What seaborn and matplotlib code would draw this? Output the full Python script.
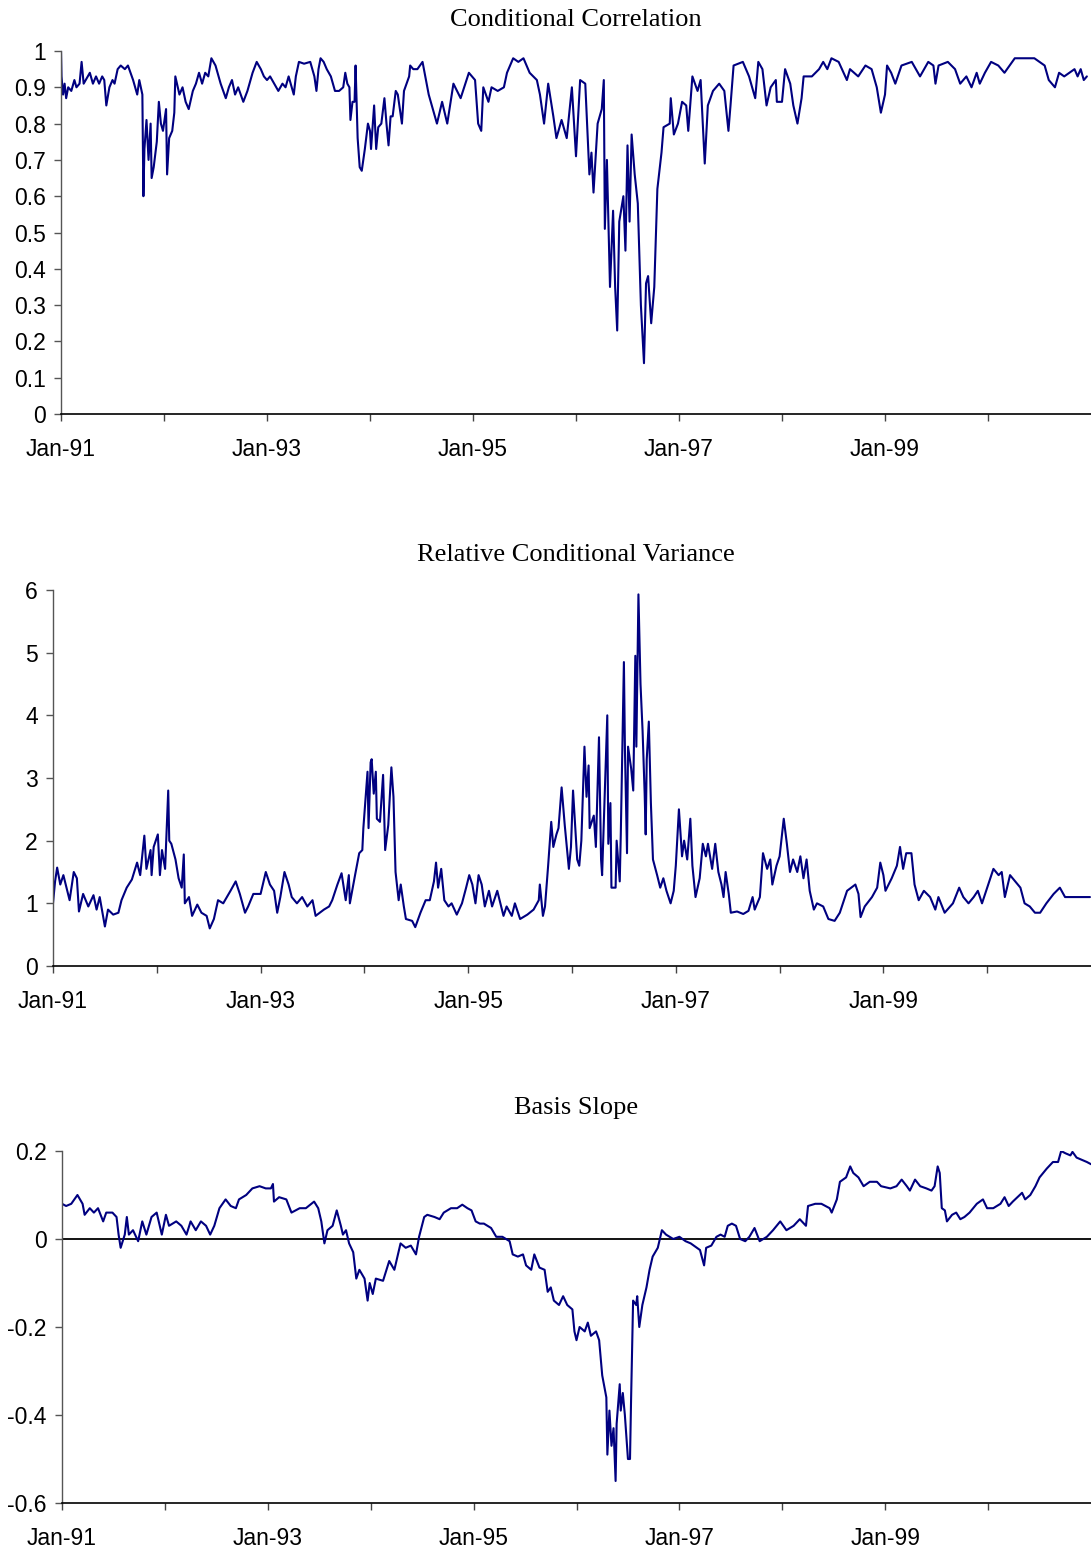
import matplotlib
matplotlib.use("Agg")
import matplotlib.pyplot as plt
import seaborn as sns
import pandas as pd
from matplotlib.ticker import FixedLocator, FuncFormatter

# ---------------- data (decimal year, value) ----------------
corr_pts = [
    (1991.00, 1.00), (1991.005, 0.93), (1991.02, 0.88), (1991.035, 0.91), (1991.05, 0.87), (1991.07, 0.90),
    (1991.10, 0.89), (1991.13, 0.92), (1991.15, 0.90), (1991.18, 0.91), (1991.20, 0.97), (1991.22, 0.91),
    (1991.24, 0.92), (1991.28, 0.94), (1991.31, 0.91), (1991.34, 0.93), (1991.37, 0.91), (1991.40, 0.93),
    (1991.42, 0.92), (1991.44, 0.85), (1991.47, 0.90), (1991.50, 0.92), (1991.52, 0.91), (1991.55, 0.95),
    (1991.58, 0.96), (1991.62, 0.95), (1991.65, 0.96), (1991.70, 0.92), (1991.74, 0.88), (1991.76, 0.92),
    (1991.79, 0.88), (1991.80, 0.60), (1991.81, 0.73), (1991.83, 0.81), (1991.85, 0.70), (1991.87, 0.80),
    (1991.88, 0.65), (1991.90, 0.68), (1991.93, 0.75), (1991.95, 0.86), (1991.97, 0.80), (1991.99, 0.78),
    (1992.02, 0.84), (1992.03, 0.66), (1992.05, 0.76), (1992.08, 0.78), (1992.10, 0.83), (1992.11, 0.93),
    (1992.15, 0.88), (1992.18, 0.90), (1992.21, 0.86), (1992.24, 0.84), (1992.28, 0.89), (1992.31, 0.91),
    (1992.34, 0.94), (1992.37, 0.91), (1992.40, 0.94), (1992.43, 0.93), (1992.46, 0.98), (1992.50, 0.96),
    (1992.55, 0.91), (1992.60, 0.87), (1992.63, 0.90), (1992.66, 0.92), (1992.69, 0.88), (1992.72, 0.90),
    (1992.77, 0.86), (1992.81, 0.89), (1992.86, 0.94), (1992.90, 0.97), (1992.94, 0.95), (1992.97, 0.93),
    (1993.00, 0.92), (1993.03, 0.93), (1993.07, 0.91), (1993.11, 0.89), (1993.15, 0.91), (1993.18, 0.90),
    (1993.21, 0.93), (1993.26, 0.88), (1993.28, 0.93), (1993.31, 0.97), (1993.36, 0.965), (1993.42, 0.97),
    (1993.46, 0.93), (1993.48, 0.89), (1993.50, 0.95), (1993.52, 0.98), (1993.55, 0.97), (1993.58, 0.95),
    (1993.62, 0.93), (1993.66, 0.89), (1993.70, 0.89), (1993.74, 0.90), (1993.76, 0.94), (1993.78, 0.91),
    (1993.80, 0.90), (1993.81, 0.81), (1993.83, 0.86), (1993.85, 0.86), (1993.86, 0.96), (1993.88, 0.76),
    (1993.90, 0.68), (1993.92, 0.67), (1993.95, 0.73), (1993.98, 0.80), (1994.00, 0.78), (1994.01, 0.73),
    (1994.04, 0.85), (1994.06, 0.73), (1994.08, 0.79), (1994.11, 0.80), (1994.14, 0.87), (1994.16, 0.80),
    (1994.18, 0.74), (1994.20, 0.82), (1994.22, 0.82), (1994.25, 0.89),
    (1994.27, 0.88), (1994.31, 0.80), (1994.33, 0.89), (1994.38, 0.93), (1994.39, 0.96), (1994.42, 0.95),
    (1994.46, 0.95), (1994.51, 0.97), (1994.57, 0.88), (1994.65, 0.80), (1994.70, 0.86), (1994.75, 0.80),
    (1994.81, 0.91), (1994.88, 0.87), (1994.96, 0.94), (1995.02, 0.92), (1995.05, 0.80), (1995.08, 0.78),
    (1995.10, 0.90), (1995.15, 0.86), (1995.18, 0.90), (1995.24, 0.89), (1995.30, 0.90), (1995.33, 0.94),
    (1995.39, 0.98), (1995.44, 0.97), (1995.49, 0.98), (1995.55, 0.94), (1995.62, 0.92), (1995.65, 0.88),
    (1995.69, 0.80), (1995.73, 0.91), (1995.78, 0.82), (1995.81, 0.76), (1995.86, 0.81), (1995.91, 0.76),
    (1995.96, 0.90), (1996.00, 0.71), (1996.04, 0.92), (1996.09, 0.91), (1996.13, 0.66), (1996.15, 0.72),
    (1996.17, 0.61), (1996.21, 0.80), (1996.25, 0.84), (1996.27, 0.92), (1996.28, 0.51), (1996.30, 0.70),
    (1996.33, 0.35), (1996.36, 0.56), (1996.38, 0.35), (1996.40, 0.23), (1996.42, 0.53), (1996.46, 0.60),
    (1996.48, 0.45), (1996.50, 0.74), (1996.52, 0.53), (1996.54, 0.77), (1996.57, 0.66), (1996.60, 0.58),
    (1996.62, 0.39), (1996.63, 0.30), (1996.66, 0.14), (1996.68, 0.36), (1996.70, 0.38), (1996.73, 0.25),
    (1996.76, 0.35), (1996.79, 0.62), (1996.83, 0.72), (1996.85, 0.79), (1996.91, 0.80), (1996.92, 0.87),
    (1996.95, 0.77), (1996.99, 0.80), (1997.03, 0.86), (1997.07, 0.85), (1997.09, 0.78), (1997.13, 0.93),
    (1997.18, 0.89), (1997.21, 0.92),
    (1997.25, 0.69), (1997.28, 0.85), (1997.33, 0.89), (1997.39, 0.91), (1997.44, 0.89), (1997.48, 0.78),
    (1997.50, 0.85), (1997.53, 0.96), (1997.62, 0.97), (1997.68, 0.93), (1997.74, 0.87), (1997.77, 0.97),
    (1997.81, 0.95), (1997.85, 0.85), (1997.89, 0.90), (1997.94, 0.92), (1997.95, 0.86), (1998.00, 0.86),
    (1998.03, 0.95), (1998.08, 0.91), (1998.11, 0.85), (1998.15, 0.80), (1998.19, 0.87), (1998.21, 0.93),
    (1998.29, 0.93), (1998.36, 0.95), (1998.40, 0.97), (1998.44, 0.95), (1998.48, 0.98), (1998.55, 0.97),
    (1998.63, 0.92), (1998.66, 0.95), (1998.74, 0.93), (1998.81, 0.96), (1998.87, 0.95), (1998.92, 0.90),
    (1998.96, 0.83), (1999.00, 0.88), (1999.02, 0.96), (1999.06, 0.94), (1999.10, 0.91), (1999.16, 0.96),
    (1999.26, 0.97), (1999.34, 0.93), (1999.42, 0.97), (1999.47, 0.96), (1999.49, 0.91), (1999.52, 0.96),
    (1999.61, 0.97), (1999.68, 0.95), (1999.73, 0.91), (1999.79, 0.93), (1999.84, 0.90), (1999.89, 0.94),
    (1999.92, 0.91), (1999.97, 0.94), (2000.03, 0.97), (2000.10, 0.96), (2000.16, 0.94), (2000.21, 0.96),
    (2000.26, 0.98), (2000.38, 0.98), (2000.45, 0.98), (2000.55, 0.96), (2000.59, 0.92), (2000.65, 0.90),
    (2000.69, 0.94), (2000.74, 0.93), (2000.84, 0.95), (2000.87, 0.93), (2000.90, 0.95), (2000.93, 0.92),
    (2000.96, 0.93),
]

var_pts = [
    (1991.00, 1.00), (1991.02, 1.35), (1991.04, 1.57), (1991.07, 1.30), (1991.10, 1.45), (1991.13, 1.25),
    (1991.16, 1.05), (1991.20, 1.50), (1991.23, 1.40), (1991.25, 0.87), (1991.29, 1.15), (1991.34, 0.95),
    (1991.39, 1.13), (1991.42, 0.90), (1991.45, 1.10), (1991.50, 0.63), (1991.53, 0.90), (1991.58, 0.82),
    (1991.63, 0.85), (1991.66, 1.05), (1991.71, 1.25), (1991.76, 1.38), (1991.81, 1.65), (1991.84, 1.45),
    (1991.88, 2.08), (1991.90, 1.55), (1991.94, 1.85), (1991.95, 1.45), (1991.97, 1.90), (1992.01, 2.10),
    (1992.03, 1.45), (1992.05, 1.85), (1992.08, 1.55), (1992.11, 2.80), (1992.12, 2.00), (1992.14, 1.95),
    (1992.18, 1.70), (1992.21, 1.40), (1992.24, 1.25), (1992.26, 1.78), (1992.27, 1.00), (1992.31, 1.10),
    (1992.34, 0.80), (1992.39, 0.98), (1992.43, 0.85), (1992.48, 0.80), (1992.51, 0.60), (1992.55, 0.75),
    (1992.59, 1.05), (1992.64, 1.00), (1992.71, 1.20), (1992.76, 1.35), (1992.80, 1.15), (1992.85, 0.85),
    (1992.88, 0.95), (1992.93, 1.15), (1993.00, 1.15), (1993.05, 1.50), (1993.09, 1.30), (1993.13, 1.20),
    (1993.16, 0.85), (1993.19, 1.10), (1993.23, 1.50), (1993.27, 1.30), (1993.30, 1.10), (1993.35, 1.00),
    (1993.40, 1.10), (1993.45, 0.95), (1993.50, 1.05), (1993.53, 0.80), (1993.61, 0.90), (1993.66, 0.95),
    (1993.69, 1.05), (1993.74, 1.30), (1993.78, 1.48), (1993.82, 1.05), (1993.85, 1.45), (1993.86, 1.00),
    (1993.91, 1.45), (1993.95, 1.80), (1993.98, 1.85), (1993.99, 2.20), (1994.03, 3.10), (1994.04, 2.20),
    (1994.06, 3.25), (1994.07, 3.30), (1994.09, 2.75), (1994.11, 3.10), (1994.12, 2.35), (1994.15, 2.30),
    (1994.18, 3.05), (1994.20, 1.85), (1994.23, 2.25), (1994.26, 3.17), (1994.28, 2.70), (1994.30, 1.50),
    (1994.33, 1.05),
    (1994.35, 1.30), (1994.38, 0.95), (1994.40, 0.75), (1994.46, 0.72), (1994.49, 0.62), (1994.54, 0.85),
    (1994.59, 1.05), (1994.63, 1.05), (1994.67, 1.35), (1994.69, 1.65), (1994.71, 1.25), (1994.74, 1.55),
    (1994.77, 1.05), (1994.81, 0.95), (1994.84, 1.00), (1994.89, 0.82), (1994.94, 1.00), (1994.98, 1.25),
    (1995.01, 1.45), (1995.04, 1.30), (1995.07, 1.00), (1995.10, 1.45), (1995.13, 1.30), (1995.16, 0.95),
    (1995.20, 1.20), (1995.23, 0.95), (1995.28, 1.20), (1995.31, 1.00), (1995.34, 0.80), (1995.37, 0.95),
    (1995.42, 0.80), (1995.45, 1.00), (1995.50, 0.75), (1995.57, 0.82), (1995.63, 0.90), (1995.68, 1.05),
    (1995.69, 1.30), (1995.72, 0.80), (1995.74, 0.95), (1995.77, 1.60), (1995.80, 2.30), (1995.82, 1.90),
    (1995.85, 2.10), (1995.87, 2.20), (1995.90, 2.85), (1995.93, 2.25), (1995.97, 1.55), (1995.99, 1.90),
    (1996.01, 2.80), (1996.05, 1.70), (1996.07, 1.60), (1996.09, 2.00), (1996.12, 3.50), (1996.14, 2.70),
    (1996.16, 3.20), (1996.17, 2.20), (1996.21, 2.40), (1996.23, 1.90), (1996.26, 3.65), (1996.28, 1.70),
    (1996.29, 1.45), (1996.32, 2.95), (1996.34, 4.00), (1996.35, 1.95), (1996.37, 2.60), (1996.38, 1.25),
    (1996.42, 1.25), (1996.43, 2.00), (1996.46, 1.35), (1996.47, 2.10), (1996.50, 4.85), (1996.51, 3.45),
    (1996.53, 1.80), (1996.54, 3.50), (1996.57, 3.15), (1996.59, 2.80), (1996.61, 4.95), (1996.62, 3.50),
    (1996.64, 5.93), (1996.66, 4.50), (1996.68, 3.75), (1996.70, 2.75), (1996.71, 2.10), (1996.72, 3.30),
    (1996.74, 3.90), (1996.76, 2.60), (1996.78, 1.70), (1996.82, 1.45), (1996.85, 1.25), (1996.88, 1.40),
    (1996.91, 1.20), (1996.95, 1.00), (1996.98, 1.20), (1997.00, 1.60), (1997.03, 2.50), (1997.06, 1.75),
    (1997.08, 2.00), (1997.11, 1.70), (1997.14, 2.35), (1997.16, 1.60), (1997.19, 1.10),
    (1997.23, 1.40), (1997.26, 1.95), (1997.29, 1.75), (1997.31, 1.95), (1997.35, 1.55), (1997.38, 1.95),
    (1997.41, 1.50), (1997.44, 1.30), (1997.46, 1.10), (1997.48, 1.50), (1997.51, 1.15), (1997.53, 0.85),
    (1997.59, 0.87), (1997.65, 0.83), (1997.70, 0.88), (1997.74, 1.10), (1997.76, 0.90), (1997.81, 1.10),
    (1997.84, 1.80), (1997.88, 1.55), (1997.91, 1.70), (1997.93, 1.30), (1997.97, 1.60), (1998.00, 1.75),
    (1998.04, 2.35), (1998.07, 1.95), (1998.10, 1.50), (1998.13, 1.70), (1998.17, 1.50), (1998.20, 1.75),
    (1998.23, 1.40), (1998.26, 1.70), (1998.29, 1.20), (1998.33, 0.90), (1998.36, 1.00), (1998.42, 0.95),
    (1998.47, 0.75), (1998.53, 0.72), (1998.58, 0.85), (1998.65, 1.20), (1998.73, 1.30), (1998.76, 1.15),
    (1998.78, 0.78), (1998.82, 0.95), (1998.89, 1.10), (1998.94, 1.25), (1998.97, 1.65), (1999.00, 1.45),
    (1999.02, 1.20), (1999.08, 1.40), (1999.13, 1.60), (1999.16, 1.90), (1999.19, 1.55), (1999.22, 1.80),
    (1999.27, 1.80), (1999.30, 1.30), (1999.34, 1.05), (1999.39, 1.20), (1999.45, 1.10), (1999.50, 0.90),
    (1999.53, 1.10), (1999.59, 0.85), (1999.67, 1.00), (1999.73, 1.25), (1999.77, 1.10), (1999.82, 1.00),
    (1999.87, 1.10), (1999.91, 1.20), (1999.95, 1.00), (2000.00, 1.25), (2000.06, 1.55), (2000.11, 1.45),
    (2000.14, 1.50), (2000.17, 1.10), (2000.22, 1.45), (2000.27, 1.35), (2000.32, 1.25), (2000.36, 1.00),
    (2000.41, 0.95), (2000.46, 0.85), (2000.51, 0.85), (2000.57, 1.00), (2000.64, 1.15), (2000.70, 1.25),
    (2000.75, 1.10), (2000.83, 1.10), (2000.93, 1.10), (2000.99, 1.10),
]

basis_pts = [
    (1991.00, 0.08), (1991.04, 0.075), (1991.09, 0.08), (1991.15, 0.10), (1991.20, 0.08), (1991.22, 0.055),
    (1991.27, 0.07), (1991.31, 0.06), (1991.35, 0.07), (1991.40, 0.04), (1991.43, 0.06), (1991.49, 0.06),
    (1991.53, 0.05), (1991.55, 0.01), (1991.57, -0.02), (1991.61, 0.01), (1991.63, 0.05), (1991.65, 0.01),
    (1991.69, 0.02), (1991.74, -0.005), (1991.78, 0.04), (1991.82, 0.01), (1991.87, 0.05), (1991.92, 0.06),
    (1991.97, 0.01), (1992.01, 0.055), (1992.04, 0.03), (1992.11, 0.04), (1992.16, 0.03), (1992.21, 0.01),
    (1992.25, 0.04), (1992.30, 0.02), (1992.35, 0.04), (1992.40, 0.03), (1992.44, 0.01), (1992.48, 0.03),
    (1992.53, 0.07), (1992.59, 0.09), (1992.64, 0.075), (1992.69, 0.07), (1992.72, 0.09), (1992.79, 0.10),
    (1992.85, 0.115), (1992.92, 0.12), (1992.98, 0.115), (1993.03, 0.115), (1993.05, 0.125), (1993.06, 0.085),
    (1993.11, 0.095), (1993.18, 0.09), (1993.23, 0.06), (1993.31, 0.07), (1993.37, 0.07), (1993.45, 0.085),
    (1993.49, 0.07), (1993.52, 0.04), (1993.55, -0.01), (1993.58, 0.02), (1993.63, 0.03), (1993.67, 0.065),
    (1993.71, 0.03), (1993.73, 0.01), (1993.76, 0.02), (1993.79, -0.01), (1993.83, -0.03), (1993.86, -0.09),
    (1993.89, -0.07), (1993.94, -0.09), (1993.97, -0.14), (1993.99, -0.10), (1994.02, -0.125), (1994.05, -0.09),
    (1994.12, -0.095), (1994.18, -0.05), (1994.23, -0.07),
    (1994.29, -0.01), (1994.34, -0.02), (1994.39, -0.015), (1994.44, -0.035), (1994.47, 0.005), (1994.52, 0.05),
    (1994.55, 0.055), (1994.62, 0.05), (1994.67, 0.045), (1994.71, 0.06), (1994.78, 0.07), (1994.84, 0.07),
    (1994.89, 0.078), (1994.94, 0.07), (1994.98, 0.065), (1995.02, 0.04), (1995.06, 0.035), (1995.10, 0.035),
    (1995.17, 0.025), (1995.22, 0.005), (1995.28, 0.005), (1995.35, -0.005), (1995.38, -0.035), (1995.43, -0.04),
    (1995.48, -0.035), (1995.51, -0.06), (1995.56, -0.07), (1995.59, -0.035), (1995.64, -0.065), (1995.69, -0.07),
    (1995.72, -0.12), (1995.75, -0.11), (1995.78, -0.14), (1995.83, -0.15), (1995.87, -0.13), (1995.91, -0.15),
    (1995.96, -0.16), (1995.98, -0.21), (1996.00, -0.23), (1996.03, -0.20), (1996.08, -0.21), (1996.11, -0.19),
    (1996.14, -0.22), (1996.19, -0.21), (1996.22, -0.23), (1996.25, -0.31), (1996.29, -0.36), (1996.30, -0.49),
    (1996.32, -0.39), (1996.34, -0.47), (1996.36, -0.43), (1996.38, -0.55), (1996.39, -0.42), (1996.42, -0.33),
    (1996.43, -0.39), (1996.45, -0.35), (1996.47, -0.40), (1996.50, -0.50), (1996.52, -0.50), (1996.53, -0.37),
    (1996.55, -0.14), (1996.58, -0.15), (1996.59, -0.13), (1996.61, -0.20), (1996.64, -0.15), (1996.68, -0.11),
    (1996.71, -0.07), (1996.74, -0.04), (1996.79, -0.02), (1996.83, 0.02), (1996.87, 0.01), (1996.94, 0.00),
    (1997.00, 0.005), (1997.06, -0.005), (1997.11, -0.01),
    (1997.20, -0.025), (1997.24, -0.06), (1997.26, -0.02), (1997.31, -0.015), (1997.36, 0.005), (1997.40, 0.01),
    (1997.44, 0.005), (1997.47, 0.03), (1997.51, 0.035), (1997.55, 0.03), (1997.59, 0.00), (1997.64, -0.005),
    (1997.68, 0.005), (1997.73, 0.025), (1997.78, -0.005), (1997.85, 0.005), (1997.91, 0.02), (1997.98, 0.04),
    (1998.04, 0.02), (1998.11, 0.03), (1998.17, 0.045), (1998.23, 0.03), (1998.25, 0.075), (1998.32, 0.08),
    (1998.38, 0.08), (1998.46, 0.07), (1998.48, 0.06), (1998.53, 0.09), (1998.56, 0.13), (1998.62, 0.14),
    (1998.66, 0.165), (1998.69, 0.15), (1998.74, 0.14), (1998.79, 0.12), (1998.85, 0.13), (1998.92, 0.13),
    (1998.96, 0.12), (1999.05, 0.115), (1999.11, 0.12), (1999.16, 0.135), (1999.21, 0.12), (1999.24, 0.11),
    (1999.29, 0.135), (1999.34, 0.12), (1999.40, 0.115), (1999.45, 0.11), (1999.48, 0.12), (1999.51, 0.165),
    (1999.53, 0.15), (1999.55, 0.07), (1999.58, 0.065), (1999.60, 0.04), (1999.65, 0.055), (1999.69, 0.06),
    (1999.73, 0.045), (1999.77, 0.05), (1999.82, 0.06), (1999.89, 0.08), (1999.95, 0.09), (1999.99, 0.07),
    (2000.05, 0.07), (2000.12, 0.08), (2000.16, 0.095), (2000.20, 0.075), (2000.24, 0.085), (2000.33, 0.105),
    (2000.36, 0.09), (2000.41, 0.10), (2000.46, 0.12), (2000.50, 0.14), (2000.57, 0.16), (2000.63, 0.175),
    (2000.68, 0.175), (2000.71, 0.20), (2000.75, 0.195), (2000.80, 0.19), (2000.82, 0.198), (2000.86, 0.185),
    (2000.91, 0.18), (2000.96, 0.175), (2001.00, 0.17),
]

titles = ["Conditional Correlation", "Relative Conditional Variance", "Basis Slope"]
year_ticks = list(range(1991, 2001))
year_labels = [f"Jan-{y % 100:02d}" if y % 2 == 1 else "" for y in year_ticks]
y_ticks = [
    [round(0.1 * i, 1) for i in range(11)],
    [0, 1, 2, 3, 4, 5, 6],
    [-0.6, -0.4, -0.2, 0.0, 0.2],
]
y_limits = [(0, 1), (0, 6), (-0.6, 0.2)]

# ---------------- styling ----------------
sns.set_style("ticks")
plt.rcParams["font.family"] = ["Liberation Sans", "DejaVu Sans"]
plt.rcParams["axes.unicode_minus"] = False
plt.rcParams["text.color"] = "black"

LINE = "#000080"
fig = plt.figure(figsize=(10.91, 15.5), dpi=100)

# axes rectangles in figure fraction [left, bottom, width, height]
rects = [
    [61 / 1091, 1 - 414 / 1550, 1 - 61 / 1091, (414 - 51) / 1550],
    [53 / 1091, 1 - 966 / 1550, 1 - 53 / 1091, (966 - 590) / 1550],
    [62 / 1091, 1 - 1503 / 1550, 1 - 62 / 1091, (1503 - 1151) / 1550],
]
title_y = [20, 555, 1108]

series = [corr_pts, var_pts, basis_pts]
for i, (pts, rect) in enumerate(zip(series, rects)):
    ax = fig.add_axes(rect)
    df = pd.DataFrame(pts, columns=["year", "value"])
    sns.lineplot(data=df, x="year", y="value", ax=ax, color=LINE, linewidth=1.5,
                 estimator=None, sort=False)
    if i == 2:
        ax.axhline(0, color="black", linewidth=1.3, zorder=1)
    ax.set_xlim(1991, 2001)
    ax.set_ylim(*y_limits[i])
    ax.xaxis.set_major_locator(FixedLocator(year_ticks))
    ax.set_xticklabels(year_labels)
    ax.yaxis.set_major_locator(FixedLocator(y_ticks[i]))
    ax.yaxis.set_major_formatter(FuncFormatter(lambda v, p: f"{round(v, 2):g}"))
    ax.set_xlabel("")
    ax.set_ylabel("")
    for side in ["top", "right"]:
        ax.spines[side].set_visible(False)
    ax.spines["left"].set_color("#555555")
    ax.spines["left"].set_linewidth(1.0)
    ax.spines["bottom"].set_color("black")
    ax.spines["bottom"].set_linewidth(1.2)
    ax.tick_params(axis="x", direction="out", length=5, width=1, color="#444444",
                   pad=12, labelsize=16.5, labelcolor="black")
    ax.tick_params(axis="y", direction="out", length=5, width=1, color="#555555",
                   pad=6, labelsize=16.5, labelcolor="black")
    ax.set_facecolor("white")
    ax.grid(False)
    fig.text(0.528, 1 - title_y[i] / 1550, titles[i], ha="center", va="center",
             fontsize=19, color="black", family=["Liberation Serif", "DejaVu Serif"])

fig.savefig("out.png", dpi=100, facecolor="white")
